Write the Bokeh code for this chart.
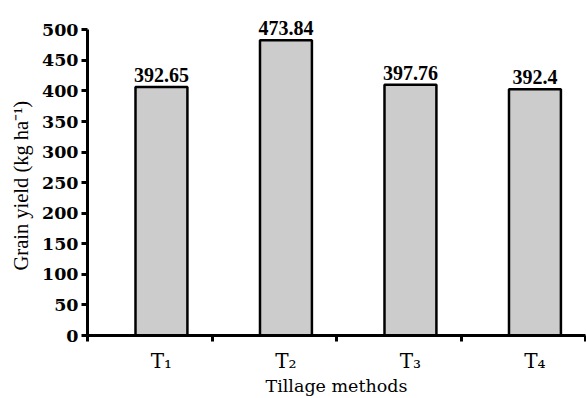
from bokeh.plotting import figure
from bokeh.models import Range1d, FixedTicker, ColumnDataSource, LabelSet, Title
from bokeh.embed import file_html
from bokeh.resources import INLINE

# Data
categories = ["T\u2081", "T\u2082", "T\u2083", "T\u2084"]
bar_heights = [406.5, 483.0, 410.0, 403.0]       # heights as drawn in the picture
value_labels = ["392.65", "473.84", "397.76", "392.4"]
y_ticks = [0, 50, 100, 150, 200, 250, 300, 350, 400, 450, 500]
y_title = "Grain yield (kg ha\u207b\u00b9)"
x_title = "Tillage methods"

FONT = "DejaVu Serif"
offset = 0.594
xs = [i + offset for i in range(len(categories))]

src = ColumnDataSource(dict(x=xs, top=bar_heights, lab=value_labels))

p = figure(width=586, height=398, output_backend="svg", toolbar_location=None,
           x_range=Range1d(0, 4), y_range=Range1d(0, 544.7),
           min_border_left=86, min_border_right=1, min_border_top=2, min_border_bottom=61)
p.outline_line_color = None
p.grid.grid_line_color = None
p.background_fill_color = "white"
p.border_fill_color = "white"

p.vbar(x="x", top="top", width=0.417, bottom=0, source=src,
       fill_color="#cccccc", line_color="black", line_width=2.5)

labels = LabelSet(x="x", y="top", text="lab", source=src, text_align="center",
                  text_baseline="bottom", y_offset=5, text_font=FONT,
                  text_font_size="20px", text_font_style="bold", text_color="black")
p.add_layout(labels)

# x axis
xa = p.xaxis[0]
xa.ticker = FixedTicker(ticks=xs, minor_ticks=[0, 1, 2, 3, 4])
xa.major_label_overrides = {x: c for x, c in zip(xs, categories)}
xa.major_tick_out = 0
xa.major_tick_in = 0
xa.minor_tick_out = 6
xa.minor_tick_in = 0
xa.minor_tick_line_width = 3
xa.minor_tick_line_color = "black"
xa.axis_line_width = 3
xa.axis_line_color = "black"
xa.major_label_text_font = FONT
xa.major_label_text_font_size = "20px"
xa.major_label_text_color = "black"
xa.major_label_standoff = 7
xa.axis_label = x_title
xa.axis_label_text_font = FONT
xa.axis_label_text_font_size = "17.5px"
xa.axis_label_text_font_style = "normal"
xa.axis_label_text_color = "black"
xa.axis_label_standoff = 0

# y axis
ya = p.yaxis[0]
ya.ticker = FixedTicker(ticks=y_ticks, minor_ticks=[])
ya.bounds = (0, 500)
ya.major_tick_out = 6
ya.major_tick_in = 0
ya.major_tick_line_width = 3
ya.major_tick_line_color = "black"
ya.minor_tick_out = 0
ya.minor_tick_in = 0
ya.axis_line_width = 3
ya.axis_line_color = "black"
ya.major_label_text_font = FONT
ya.major_label_text_font_size = "17.5px"
ya.major_label_text_font_style = "bold"
ya.major_label_text_color = "black"
ya.major_label_standoff = 3
ya.axis_label = None

yt = Title(text=y_title, align="left", offset=65, standoff=14,
           text_font="Liberation Serif", text_font_size="20.5px",
           text_font_style="normal", text_color="black")
p.add_layout(yt, "left")

open("out.html", "w").write(file_html(p, INLINE))
